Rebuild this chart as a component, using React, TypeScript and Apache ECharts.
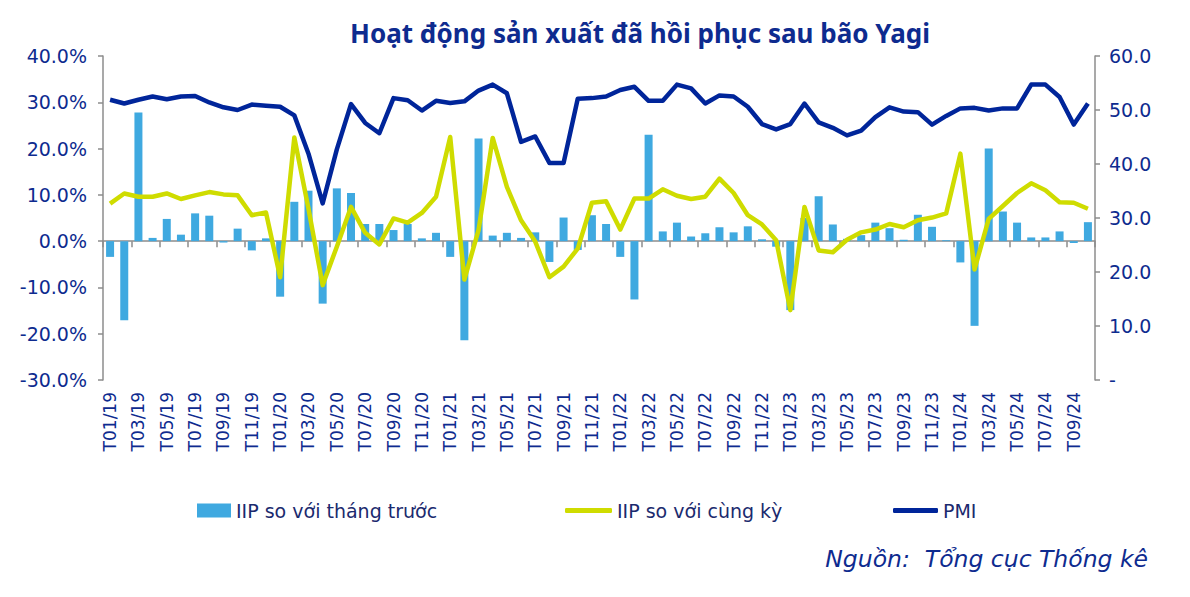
import React, { useEffect, useRef } from "react";
import * as echarts from "echarts";

const years = ["19", "20", "21", "22", "23", "24"];
const months = ["01", "02", "03", "04", "05", "06", "07", "08", "09", "10", "11", "12"];
const categories: string[] = [];
years.forEach((y) => months.forEach((m) => categories.push(`T${m}/${y}`)));
categories.splice(70); // T01/19 ... T10/24

const iipMoM = [
  -3.4, -17.1, 27.8, 0.7, 4.8, 1.4, 6.0, 5.5, -0.3, 2.7, -2.0, 0.6,
  -12.0, 8.5, 10.9, -13.5, 11.4, 10.4, 3.7, 3.7, 2.4, 3.7, 0.6, 1.8,
  -3.4, -21.4, 22.2, 1.2, 1.8, 0.7, 1.9, -4.5, 5.1, -1.9, 5.6, 3.7,
  -3.4, -12.6, 23.0, 2.1, 4.0, 1.0, 1.7, 3.0, 1.9, 3.2, 0.4, -1.2,
  -14.9, 5.0, 9.7, 3.6, 0.5, 1.3, 4.0, 2.8, 0.3, 5.7, 3.1, 0.2,
  -4.6, -18.3, 20.0, 6.4, 4.0, 0.8, 0.8, 2.1, -0.4, 4.1,
];

const iipYoY = [
  8.1, 10.3, 9.6, 9.6, 10.3, 9.1, 9.9, 10.6, 10.1, 9.9, 5.6, 6.2,
  -7.8, 22.4, 7.0, -9.5, -1.2, 7.4, 1.8, -0.7, 4.9, 4.0, 6.1, 9.6,
  22.5, -8.3, 2.4, 22.3, 11.7, 4.5, -0.1, -7.8, -5.5, -1.6, 8.3, 8.6,
  2.5, 9.2, 9.2, 11.2, 9.8, 9.1, 9.6, 13.5, 10.4, 5.6, 3.6, 0.2,
  -14.9, 7.4, -2.0, -2.4, 0.3, 1.9, 2.5, 3.7, 3.0, 4.5, 5.1, 6.0,
  18.9, -6.1, 4.8, 7.6, 10.4, 12.5, 11.0, 8.4, 8.3, 7.0,
];

const pmi = [
  51.9, 51.2, 51.9, 52.5, 52.0, 52.5, 52.6, 51.4, 50.5, 50.0, 51.0, 50.8,
  50.6, 49.0, 41.9, 32.7, 42.7, 51.1, 47.6, 45.7, 52.2, 51.8, 49.9, 51.7,
  51.3, 51.6, 53.6, 54.7, 53.1, 44.1, 45.1, 40.2, 40.2, 52.1, 52.2, 52.5,
  53.7, 54.3, 51.7, 51.7, 54.7, 54.0, 51.2, 52.7, 52.5, 50.6, 47.4, 46.4,
  47.4, 51.2, 47.7, 46.7, 45.3, 46.2, 48.7, 50.5, 49.7, 49.6, 47.3, 48.9,
  50.3, 50.4, 49.9, 50.3, 50.3, 54.7, 54.7, 52.4, 47.3, 51.2,
];

const seriesNames = ["IIP so với tháng trước", "IIP so với cùng kỳ", "PMI"];
const titleText = "Hoạt động sản xuất đã hồi phục sau bão Yagi";
const sourceText = "Nguồn:  Tổng cục Thống kê";

const NAVY = "#0e2b8f";
const AXIS_GREY = "#8c8c8c";
const FONT = "'Noto Sans', sans-serif";
const WIDE = "'DejaVu Sans', sans-serif";

export default function App() {
  const ref = useRef<HTMLDivElement>(null);
  useEffect(() => {
    if (!ref.current) return;
    const chart = echarts.init(ref.current, undefined, { renderer: "svg" });
    const legendText = { fontSize: 19, color: "#1b2a6e", fontFamily: WIDE };
    chart.setOption({
      animation: false,
      backgroundColor: "#ffffff",
      textStyle: { fontFamily: WIDE },
      grid: { left: 103, right: 95, top: 56, bottom: 217, containLabel: false },
      graphic: [
        {
          type: "text",
          x: 640,
          y: 33,
          style: {
            text: titleText,
            fontSize: 26,
            fontWeight: "bold",
            fontFamily: FONT,
            fill: NAVY,
            align: "center",
            verticalAlign: "middle",
          },
        },
        {
          type: "text",
          x: 1148,
          y: 559,
          style: {
            text: sourceText,
            fontSize: 23.5,
            fontStyle: "italic",
            fontFamily: WIDE,
            fill: NAVY,
            align: "right",
            verticalAlign: "middle",
          },
        },
      ],
      legend: [
        {
          data: [seriesNames[0]],
          left: 197,
          top: 501,
          padding: 0,
          icon: "rect",
          itemWidth: 34,
          itemHeight: 14,
          itemGap: 0,
          textStyle: legendText,
        },
        {
          data: [seriesNames[1]],
          left: 565,
          top: 501,
          padding: 0,
          icon: "roundRect",
          itemWidth: 47,
          itemHeight: 5,
          textStyle: legendText,
        },
        {
          data: [seriesNames[2]],
          left: 893,
          top: 501,
          padding: 0,
          icon: "roundRect",
          itemWidth: 45,
          itemHeight: 5,
          textStyle: legendText,
        },
      ],
      xAxis: [
        {
          type: "category",
          data: categories,
          boundaryGap: true,
          position: "bottom",
          axisLine: { show: false, onZero: false },
          axisTick: { show: false },
          axisLabel: {
            interval: 1,
            rotate: 90,
            margin: 12,
            fontSize: 17,
            color: NAVY,
            fontFamily: WIDE,
          },
        },
        {
          type: "category",
          data: categories,
          boundaryGap: true,
          position: "bottom",
          axisLine: {
            show: true,
            onZero: true,
            onZeroAxisIndex: 0,
            lineStyle: { color: AXIS_GREY, width: 1.5 },
          },
          axisTick: {
            show: true,
            interval: 1,
            length: 6,
            lineStyle: { color: AXIS_GREY, width: 1.5 },
          },
          axisLabel: { show: false },
        },
      ],
      yAxis: [
        {
          type: "value",
          min: -30,
          max: 40,
          interval: 10,
          axisLine: { show: true, lineStyle: { color: AXIS_GREY, width: 1.5 } },
          axisTick: { show: true, length: 5, lineStyle: { color: AXIS_GREY, width: 1.5 } },
          splitLine: { show: false },
          axisLabel: {
            margin: 16,
            fontSize: 19,
            color: NAVY,
            fontFamily: WIDE,
            formatter: (v: number) => v.toFixed(1) + "%",
          },
        },
        {
          type: "value",
          min: 0,
          max: 60,
          interval: 10,
          position: "right",
          axisLine: { show: true, lineStyle: { color: AXIS_GREY, width: 1.5 } },
          axisTick: { show: true, length: 5, lineStyle: { color: AXIS_GREY, width: 1.5 } },
          splitLine: { show: false },
          axisLabel: {
            margin: 14,
            fontSize: 19,
            color: NAVY,
            fontFamily: WIDE,
            formatter: (v: number) => (v === 0 ? "-" : v.toFixed(1)),
          },
        },
      ],
      series: [
        {
          name: seriesNames[0],
          type: "bar",
          xAxisIndex: 0,
          yAxisIndex: 0,
          data: iipMoM,
          barWidth: 8,
          itemStyle: { color: "#3fa9e0" },
        },
        {
          name: seriesNames[1],
          type: "line",
          xAxisIndex: 0,
          yAxisIndex: 0,
          data: iipYoY,
          showSymbol: false,
          symbol: "none",
          lineStyle: { color: "#cfdc00", width: 4.5, join: "round" },
          itemStyle: { color: "#cfdc00" },
        },
        {
          name: seriesNames[2],
          type: "line",
          xAxisIndex: 0,
          yAxisIndex: 1,
          data: pmi,
          showSymbol: false,
          symbol: "none",
          lineStyle: { color: "#00259a", width: 4.5, join: "round" },
          itemStyle: { color: "#00259a" },
        },
      ],
    });
    return () => chart.dispose();
  }, []);
  return (
    <div
      ref={ref}
      style={{ position: "fixed", left: 0, top: 0, width: 1190, height: 597, background: "#fff" }}
    />
  );
}
